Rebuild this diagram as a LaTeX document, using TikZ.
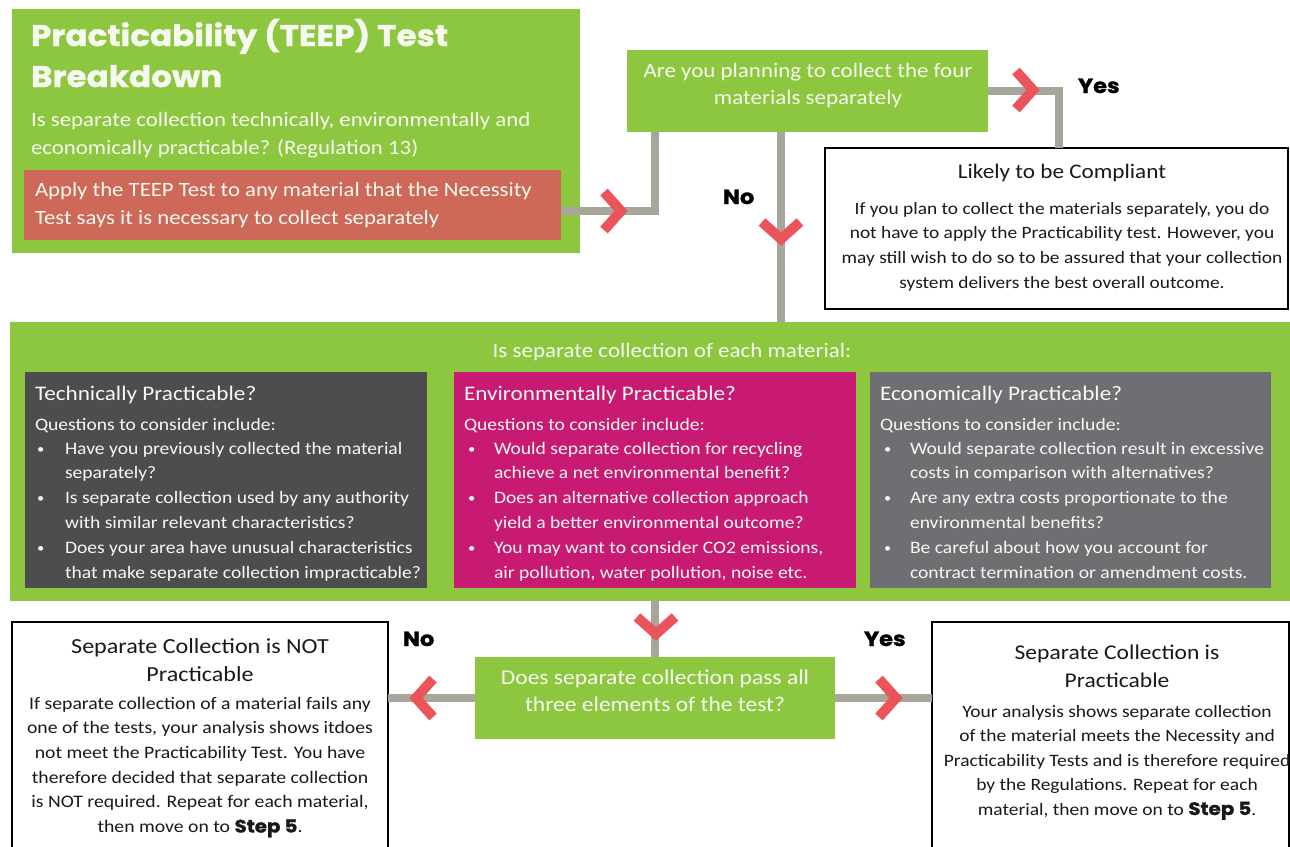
\documentclass[tikz,border=0pt]{standalone}
\usepackage{fontspec}
\setmainfont{Carlito}[FakeStretch=1.12]
\newfontfamily\heavy{Poppins}[FakeStretch=1.1, FakeBold=1.2]
\definecolor{tgreen}{RGB}{141,198,63}
\definecolor{tred}{RGB}{206,104,88}
\definecolor{chevc}{RGB}{234,84,90}
\definecolor{dgray}{RGB}{77,77,80}
\definecolor{mgray}{RGB}{110,111,114}
\definecolor{tmag}{RGB}{200,26,114}
\definecolor{conngray}{RGB}{168,165,155}
\definecolor{ltext}{RGB}{246,249,240}
\definecolor{dtext}{RGB}{25,25,25}
\newcommand{\bul}[1]{\makebox[#1][l]{\raisebox{1pt}{\fontsize{13}{13}\selectfont •}}}
\begin{document}
\begin{tikzpicture}[x=1pt,y=-1pt,
  area/.style={inner sep=0pt, outer sep=0pt, anchor=north west, draw=none},
  outbox/.style={area, draw=black, line width=1.2pt, fill=white},
  conn/.style={draw=conngray, line width=8pt},
  chevline/.style={draw=chevc, line width=10pt, line join=miter},
  txt/.style={inner sep=0pt, outer sep=0pt, text=ltext},
  dtxt/.style={inner sep=0pt, outer sep=0pt, text=dtext},
  lbl/.style={inner sep=0pt, outer sep=0pt, text=black, font=\heavy\bfseries\fontsize{20.5}{24}\selectfont},
  chevR/.pic={\draw[chevline] (-24,-19) -- (-7,0) -- (-24,19);},
  chevL/.pic={\draw[chevline] (24,-19) -- (7,0) -- (24,19);},
  chevD/.pic={\draw[chevline] (-19,-24) -- (0,-7) -- (19,-24);}
]
\useasboundingbox (0,0) rectangle (1290,846);
\clip (0,0) rectangle (1290,846);
\fill[white] (0,0) rectangle (1290,846);

% ---------- boxes ----------
\node[area, fill=tgreen, minimum width=568pt, minimum height=244pt] (title) at (12,9) {};
\node[area, fill=tred, minimum width=537pt, minimum height=70pt] (apply) at (24,170) {};
\node[area, fill=tgreen, minimum width=361pt, minimum height=82pt] (q1) at (627,50) {};
\node[outbox, minimum width=463pt, minimum height=161pt] (comp) at (825,148) {};
\node[area, fill=tgreen, minimum width=1280pt, minimum height=279pt] (big) at (10,322) {};
\node[area, fill=dgray, minimum width=402pt, minimum height=216pt] (tech) at (25,372) {};
\node[area, fill=tmag, minimum width=402pt, minimum height=216pt] (env) at (454,372) {};
\node[area, fill=mgray, minimum width=401pt, minimum height=216pt] (econ) at (870,372) {};
\node[area, fill=tgreen, minimum width=360pt, minimum height=82pt] (q2) at (475,657) {};
\node[outbox, minimum width=376pt, minimum height=240pt] (notp) at (12,622) {};
\node[outbox, minimum width=357pt, minimum height=240pt] (prac) at (932,622) {};

% ---------- connectors ----------
\draw[conn] ([yshift=-6pt]apply.east) -| ([xshift=28pt]q1.south west);
\coordinate (noTop) at ([xshift=154pt]q1.south west);
\draw[conn] (noTop) -- (noTop |- big.north);
\draw[conn] (q1.east) -| ([xshift=234pt]comp.north west);
\draw[conn] (q2.north |- big.south) -- (q2.north);
\draw[conn] (q2.west) -- (q2.west -| notp.east);
\draw[conn] (q2.east) -- (q2.east -| prac.west);

% ---------- chevrons ----------
\pic at (628,211) {chevR};
\pic at (1040,90) {chevR};
\pic at (781,246) {chevD};
\pic at (656,641) {chevD};
\pic at (409,698) {chevL};
\pic at (903,698) {chevR};

% ---------- labels ----------
\node[lbl, anchor=base west] (yes1) at (1078,93) {Yes};
\node[lbl, anchor=base west] (no1) at (723,204) {No};
\node[lbl, anchor=base west] (no2) at (403,646) {No};
\node[lbl, anchor=base west] (yes2) at (864,646) {Yes};

% ---------- texts ----------
\node[txt, anchor=base west, font=\heavy\bfseries\fontsize{29.7}{41}\selectfont] (ttl) at (31,46)
  {\parbox[t]{530pt}{Practicability (TEEP) Test\\Breakdown}};
\node[txt, anchor=base west, font=\fontsize{20.4}{28}\selectfont] (sub) at (31,126)
  {\parbox[t]{540pt}{Is separate collection technically, environmentally and\\economically practicable? (Regulation 13)}};
\node[txt, anchor=base west, font=\fontsize{20.3}{28}\selectfont] (applyt) at (35,196)
  {\parbox[t]{520pt}{Apply the TEEP Test to any material that the Necessity\\Test says it is necessary to collect separately}};
\node[txt, anchor=base, font=\fontsize{20.5}{27}\selectfont] (q1t) at (808,77)
  {\parbox[t]{380pt}{\centering Are you planning to collect the four\\materials separately}};

\node[dtxt, anchor=base, font=\fontsize{20.7}{24}\selectfont] (compt) at (1062,178) {Likely to be Compliant};
\node[dtxt, anchor=base, font=\fontsize{17.3}{24.7}\selectfont] (compb) at (1062,214)
  {\parbox[t]{500pt}{\centering If you plan to collect the materials separately, you do\\not have to apply the Practicability test. However, you\\may still wish to do so to be assured that your collection\\system delivers the best overall outcome.}};

\node[txt, anchor=base, font=\fontsize{20.5}{24}\selectfont] (bigt) at (672,357) {Is separate collection of each material:};

\node[txt, anchor=base west, font=\fontsize{20.7}{24}\selectfont] (techt) at (35,400) {Technically Practicable?};
\node[txt, anchor=base west, font=\fontsize{17.5}{24}\selectfont] (techq) at (35,430) {Questions to consider include:};
\node[txt, anchor=base west, font=\fontsize{17.5}{24.8}\selectfont] (techb) at (37,454)
  {\parbox[t]{400pt}{\bul{28pt}Have you previously collected the material\\\hspace*{28pt}separately?\\\bul{28pt}Is separate collection used by any authority\\\hspace*{28pt}with similar relevant characteristics?\\\bul{28pt}Does your area have unusual characteristics\\\hspace*{28pt}that make separate collection impracticable?}};

\node[txt, anchor=base west, font=\fontsize{20.7}{24}\selectfont] (envt) at (464,400) {Environmentally Practicable?};
\node[txt, anchor=base west, font=\fontsize{17.5}{24}\selectfont] (envq) at (464,430) {Questions to consider include:};
\node[txt, anchor=base west, font=\fontsize{17.5}{24.8}\selectfont] (envb) at (468,454)
  {\parbox[t]{400pt}{\bul{26pt}Would separate collection for recycling\\\hspace*{26pt}achieve a net environmental benefit?\\\bul{26pt}Does an alternative collection approach\\\hspace*{26pt}yield a better environmental outcome?\\\bul{26pt}You may want to consider CO2 emissions,\\\hspace*{26pt}air pollution, water pollution, noise etc.}};

\node[txt, anchor=base west, font=\fontsize{20.7}{24}\selectfont] (econt) at (880,400) {Economically Practicable?};
\node[txt, anchor=base west, font=\fontsize{17.5}{24}\selectfont] (econq) at (880,430) {Questions to consider include:};
\node[txt, anchor=base west, font=\fontsize{17.5}{24.8}\selectfont] (econb) at (884,454)
  {\parbox[t]{400pt}{\bul{26pt}Would separate collection result in excessive\\\hspace*{26pt}costs in comparison with alternatives?\\\bul{26pt}Are any extra costs proportionate to the\\\hspace*{26pt}environmental benefits?\\\bul{26pt}Be careful about how you account for\\\hspace*{26pt}contract termination or amendment costs.}};

\node[txt, anchor=base, font=\fontsize{21}{27}\selectfont] (q2t) at (655,684)
  {\parbox[t]{380pt}{\centering Does separate collection pass all\\three elements of the test?}};

\node[dtxt, anchor=base, font=\fontsize{21.5}{28}\selectfont] (notpt) at (200,653)
  {\parbox[t]{380pt}{\centering Separate Collection is NOT\\Practicable}};
\node[dtxt, anchor=base, font=\fontsize{17.6}{24.7}\selectfont] (notpb) at (200,709)
  {\parbox[t]{400pt}{\centering If separate collection of a material fails any\\one of the tests, your analysis shows itdoes\\not meet the Practicability Test. You have\\therefore decided that separate collection\\is NOT required. Repeat for each material,\\then move on to {\heavy\bfseries\fontsize{18}{24.7}\selectfont Step 5}.}};

\node[dtxt, anchor=base, font=\fontsize{21}{28}\selectfont] (pract) at (1117,659)
  {\parbox[t]{380pt}{\centering Separate Collection is\\Practicable}};
\node[dtxt, anchor=base, font=\fontsize{17.4}{24.5}\selectfont] (pracb) at (1117,717)
  {\parbox[t]{400pt}{\centering Your analysis shows separate collection\\of the material meets the Necessity and\\Practicability Tests and is therefore required\\by the Regulations. Repeat for each\\material, then move on to {\heavy\bfseries\fontsize{18}{24.5}\selectfont Step 5}.}};
\end{tikzpicture}
\end{document}
